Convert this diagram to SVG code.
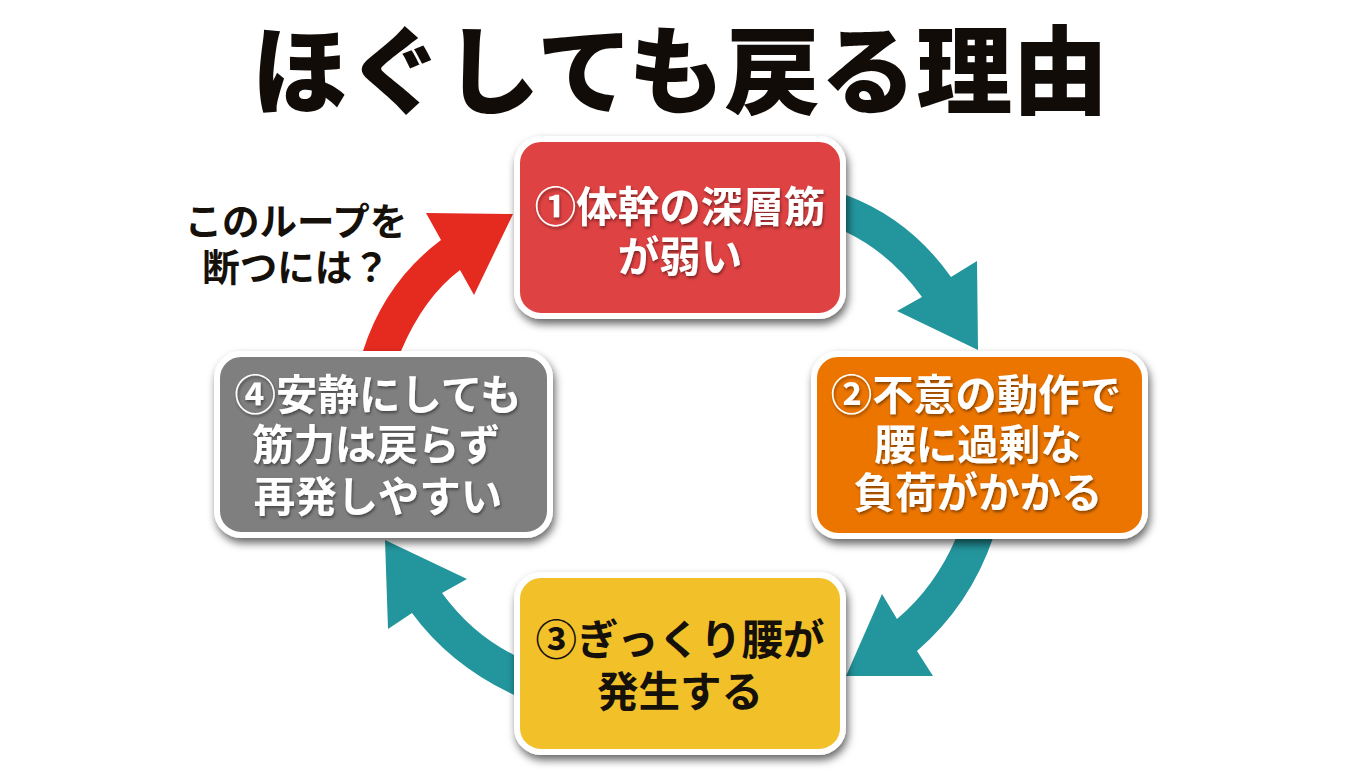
<svg xmlns="http://www.w3.org/2000/svg" width="1360" height="784" viewBox="0 0 1360 784">
<style>
text{font-family:"Noto Sans CJK JP","Noto Sans CJK SC",sans-serif;font-weight:700;text-anchor:middle}
.box{stroke:#fff;stroke-width:6;filter:url(#sh)}
.lb{font-size:41.5px}
.w{fill:#fff;filter:url(#ts)}
.k{fill:#15100a}
.teal{fill:#23959c}
</style>
<defs>
<filter id="sh" x="-10%" y="-10%" width="125%" height="130%"><feDropShadow dx="2" dy="5" stdDeviation="4" flood-color="#000" flood-opacity=".6"/></filter>
<filter id="ts" x="-10%" y="-20%" width="120%" height="140%"><feDropShadow dx="1" dy="2" stdDeviation="1.5" flood-color="#000" flood-opacity=".45"/></filter>
</defs>
<rect width="1360" height="784" fill="#fff"/>
<text x="680" y="106" font-size="96" style="font-weight:900" fill="#120c08">ほぐしても戻る理由</text>
<g id="connectors">
<path class="teal" d="M846 195Q910 219 951 277L977 261L978 350L897 311L922 297Q890 253 846 232Z"/>
<path class="teal" d="M956 538H993Q970 605 917 651L933 676H846L882 594L897 619Q935 587 956 538Z"/>
<path class="teal" d="M514 655Q472 634 442 593L467 579L385 540L388 629L412 613Q450 665 514 695Z"/>
<path fill="#e52a20" d="M363 351H401Q424 297 460 270L474 295L513 214L426 213L441 240Q385 282 363 351Z"/>
</g>
<g id="note"><text class="k" font-size="37.5"><tspan x="296" y="235">このループを</tspan><tspan x="296" y="281">断つには？</tspan></text></g>
<g id="node1"><rect class="box" x="517" y="139" width="326" height="177" rx="24" fill="#df4343"/><text class="lb w"><tspan x="680" y="222">①体幹の深層筋</tspan><tspan x="680" y="272">が弱い</tspan></text></g>
<g id="node2"><rect class="box" x="814" y="354" width="331" height="182" rx="24" fill="#ec7505"/><text class="lb w"><tspan x="976" y="410">②不意の動作で</tspan><tspan x="978" y="460">腰に過剰な</tspan><tspan x="978" y="508">負荷がかかる</tspan></text></g>
<g id="node3"><rect class="box" x="517" y="575" width="326" height="177" rx="24" fill="#f2c12c"/><text class="lb k"><tspan x="680" y="655">③ぎっくり腰が</tspan><tspan x="680" y="707">発生する</tspan></text></g>
<g id="node4"><rect class="box" x="217" y="354" width="333" height="181" rx="24" fill="#7f7f7f"/><text class="lb w"><tspan x="378" y="410">④安静にしても</tspan><tspan x="376" y="460">筋力は戻らず</tspan><tspan x="378" y="512">再発しやすい</tspan></text></g>
</svg>
